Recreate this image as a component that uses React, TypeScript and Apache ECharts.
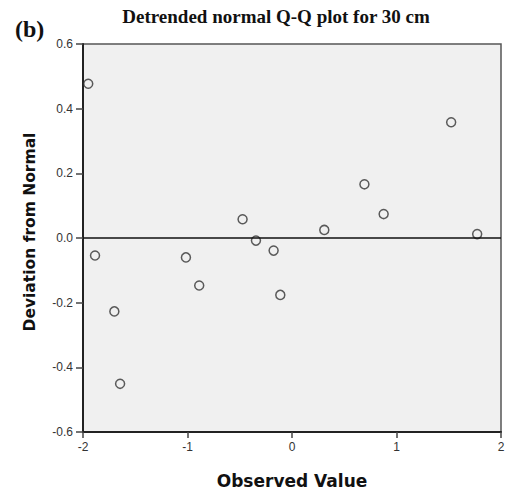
import React, { useEffect, useRef } from "react";
import * as echarts from "echarts";

const observedValues = [-1.95, -1.885, -1.7, -1.645, -1.015, -0.888, -0.473, -0.345, -0.176, -0.112, 0.309, 0.693, 0.877, 1.523, 1.772];
const deviations = [0.477, -0.054, -0.227, -0.451, -0.06, -0.147, 0.058, -0.008, -0.039, -0.176, 0.025, 0.166, 0.074, 0.358, 0.012];
const xTicks = [-2, -1, 0, 1, 2];
const yTicks = [-0.6, -0.4, -0.2, 0.0, 0.2, 0.4, 0.6];

export default function App() {
  const ref = useRef<HTMLDivElement>(null);
  useEffect(() => {
    if (!ref.current) return;
    const chart = echarts.init(ref.current, null, { renderer: "svg" });
    const points = observedValues.map((x, i) => [x, deviations[i]]);
    chart.setOption({
      animation: false,
      backgroundColor: "#ffffff",
      title: [
        {
          text: "Detrended normal Q-Q plot for 30 cm",
          left: 271,
          top: 2,
          textAlign: "center",
          textStyle: { fontFamily: "Liberation Serif", fontWeight: "bold", fontSize: 19, color: "#111" },
        },
        {
          text: "(b)",
          left: 10,
          top: 12,
          textStyle: { fontFamily: "Liberation Serif", fontWeight: "bold", fontSize: 24, color: "#111" },
        },
      ],
      grid: {
        left: 83,
        right: 7,
        top: 44,
        bottom: 62,
        show: true,
        backgroundColor: "#f0f0f0",
        borderColor: "#555",
        borderWidth: 1.5,
      },
      xAxis: {
        type: "value",
        min: xTicks[0],
        max: xTicks[xTicks.length - 1],
        interval: 1,
        name: "Observed Value",
        nameLocation: "middle",
        nameGap: 40,
        nameTextStyle: { fontFamily: "DejaVu Sans", fontWeight: "bold", fontSize: 17, color: "#111" },
        axisLine: { show: true, onZero: false, lineStyle: { color: "#222", width: 2 } },
        axisTick: { show: true, inside: false, length: 6, lineStyle: { color: "#444", width: 1.5 } },
        axisLabel: { fontFamily: "Liberation Sans", fontSize: 12, color: "#333", margin: 9 },
        splitLine: { show: false },
      },
      yAxis: {
        type: "value",
        min: yTicks[0],
        max: yTicks[yTicks.length - 1],
        interval: 0.2,
        name: "Deviation from Normal",
        nameLocation: "middle",
        nameGap: 45,
        nameTextStyle: {
          fontFamily: "DejaVu Sans",
          fontWeight: "bold",
          fontSize: 15.5,
          color: "#111",
          padding: [0, 0, 0, 12],
        },
        axisLine: { show: true, onZero: false, lineStyle: { color: "#222", width: 2 } },
        axisTick: { show: true, inside: false, length: 7, lineStyle: { color: "#444", width: 1.5 } },
        axisLabel: {
          fontFamily: "Liberation Sans",
          fontSize: 12,
          color: "#333",
          margin: 10,
          padding: [6, 0, 0, 0],
          formatter: (v: number) => v.toFixed(1),
        },
        splitLine: { show: false },
      },
      series: [
        {
          type: "scatter",
          data: points,
          symbol: "circle",
          symbolSize: 9,
          itemStyle: { color: "rgba(0,0,0,0)", borderColor: "#333", borderWidth: 1.5 },
          markLine: {
            silent: true,
            symbol: ["none", "none"],
            label: { show: false },
            lineStyle: { color: "#111", width: 1.5, type: "solid" },
            data: [{ yAxis: 0 }],
          },
          z: 3,
        },
      ],
    });
    return () => chart.dispose();
  }, []);
  return <div ref={ref} style={{ position: "absolute", left: 0, top: 0, width: 508, height: 494 }} />;
}
